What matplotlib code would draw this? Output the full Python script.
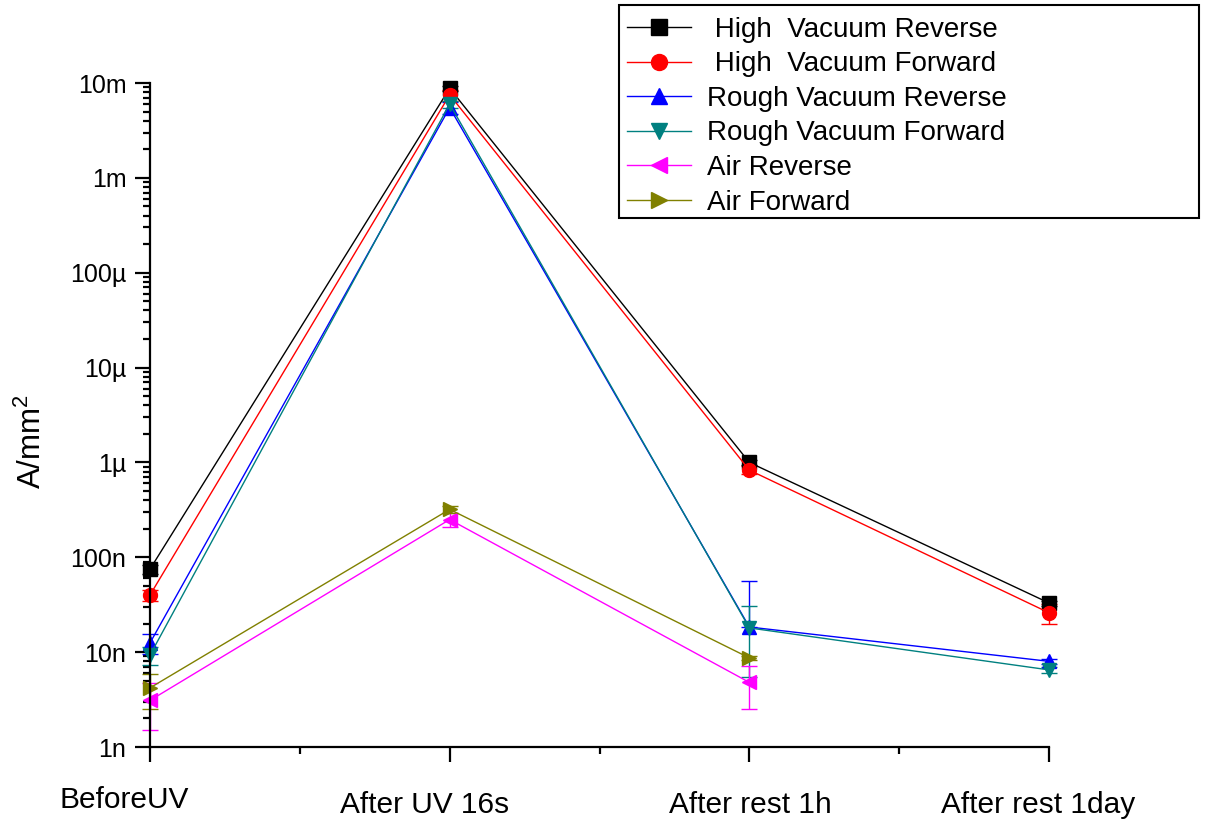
import numpy as np
import matplotlib
matplotlib.use("Agg")
import matplotlib.pyplot as plt
from matplotlib.patches import Rectangle
from matplotlib.ticker import LogLocator, NullFormatter
from matplotlib.transforms import ScaledTranslation

plt.rcParams["font.family"] = ["Liberation Sans", "DejaVu Sans"]
plt.rcParams["mathtext.fontset"] = "custom"
plt.rcParams["mathtext.rm"] = "Liberation Sans"
plt.rcParams["mathtext.it"] = "Liberation Sans:italic"

# Measurement stages
categories = ["BeforeUV", "After UV 16s", "After rest 1h", "After rest 1day"]

# Current density (A/mm^2) and error for each condition
high_vac_rev = [75e-9, 8.8e-3, 1.0e-6, 33e-9]
high_vac_rev_err = [8e-9, 0.5e-3, 0.05e-6, 2e-9]
high_vac_fwd = [40e-9, 7.5e-3, 0.83e-6, 26e-9]
high_vac_fwd_err = [5e-9, 1.0e-3, 0.08e-6, 6e-9]
rough_vac_rev = [12.5e-9, 5.5e-3, 18.4e-9, 8.0e-9]
rough_vac_rev_err = [3e-9, 0.8e-3, 38e-9, 0.5e-9]
rough_vac_fwd = [9.3e-9, 6.0e-3, 18e-9, 6.5e-9]
rough_vac_fwd_err = [2e-9, 0.5e-3, 12.5e-9, 0.5e-9]
air_rev = [3.1e-9, 250e-9, 4.8e-9]
air_rev_err = [1.6e-9, 40e-9, 2.3e-9]
air_fwd = [4.2e-9, 320e-9, 8.7e-9]
air_fwd_err = [1.7e-9, 30e-9, 0.5e-9]

series = [
    (" High  Vacuum Reverse", high_vac_rev, high_vac_rev_err, "black", "s"),
    (" High  Vacuum Forward", high_vac_fwd, high_vac_fwd_err, "red", "o"),
    ("Rough Vacuum Reverse", rough_vac_rev, rough_vac_rev_err, "blue", "^"),
    ("Rough Vacuum Forward", rough_vac_fwd, rough_vac_fwd_err, "#008080", "v"),
    ("Air Reverse", air_rev, air_rev_err, "magenta", "<"),
    ("Air Forward", air_fwd, air_fwd_err, "#808000", ">"),
]

y_tick_values = [1e-9, 1e-8, 1e-7, 1e-6, 1e-5, 1e-4, 1e-3, 1e-2]
y_tick_labels = ["1n", "10n", "100n", "1µ", "10µ", "100µ", "1m", "10m"]

fig = plt.figure(figsize=(12.05, 8.21), dpi=100)
ax = fig.add_axes([150 / 1205, 74 / 821, 899 / 1205, 664 / 821])
ax.set_yscale("log", nonpositive="mask")

handles = []
for label, vals, errs, color, marker in series:
    vals = np.asarray(vals)
    errs = np.asarray(errs)
    x = np.arange(len(vals))
    # on a log axis a lower bar reaching below zero is left out
    lower = np.where(errs >= vals, 0.0, errs)
    cont = ax.errorbar(x, vals, yerr=[lower, errs], color=color, marker=marker,
                       markersize=10, markeredgecolor=color, markerfacecolor=color,
                       lw=1.0, elinewidth=1.0, capsize=5.5, capthick=1.0,
                       label=label, clip_on=False)
    handles.append(cont[0])

ax.set_xlim(0, len(categories) - 1)
ax.set_ylim(1e-9, 1e-2)

for side in ("top", "right"):
    ax.spines[side].set_visible(False)
for side in ("left", "bottom"):
    ax.spines[side].set_linewidth(1.6)

ax.set_xticks(np.arange(len(categories)), categories)
ax.set_xticks(np.arange(len(categories) - 1) + 0.5, minor=True)
ax.set_yticks(y_tick_values, y_tick_labels)
ax.yaxis.set_minor_locator(LogLocator(base=10, subs=np.arange(2, 10)))
ax.yaxis.set_minor_formatter(NullFormatter())

ax.tick_params(axis="both", which="major", direction="out", length=11, width=1.6)
ax.tick_params(axis="both", which="minor", direction="out", length=5, width=1.6)
ax.tick_params(axis="y", which="major", labelsize=18, pad=6)
ax.tick_params(axis="x", which="major", labelsize=21.5, pad=21)

# Nudge each category label to its place under the axis
label_shifts = [(-26, 5), (-25, 0), (1, 0), (-11, 0)]
for lbl, (dx, dy) in zip(ax.get_xticklabels(), label_shifts):
    lbl.set_transform(lbl.get_transform() + ScaledTranslation(dx / 100, dy / 100, fig.dpi_scale_trans))

ax.set_ylabel("A/mm$^\\mathregular{2}$", fontsize=22.5)
ax.yaxis.set_label_coords(-0.114, 0.46)

# Legend entries, with a plain box drawn round them
leg = ax.legend(handles, [s[0] for s in series], loc="upper left",
                bbox_to_anchor=(615 / 1205, 1 - 218 / 821, 580 / 1205, 213 / 821),
                bbox_transform=fig.transFigure, fontsize=20, frameon=False,
                handlelength=2.3, handletextpad=0.6, labelspacing=0.31,
                borderpad=0.42, borderaxespad=0.0, markerscale=1.15)
fig.patches.append(Rectangle((619 / 1205, 1 - 218 / 821), 580 / 1205, 213 / 821,
                             transform=fig.transFigure, fill=False,
                             edgecolor="black", linewidth=1.5))

fig.savefig("out.png", dpi=100, facecolor="white")
